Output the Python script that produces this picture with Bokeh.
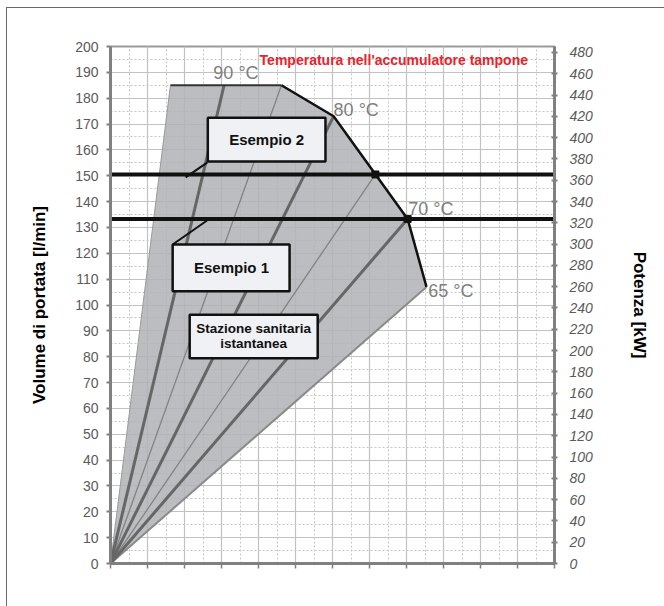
from bokeh.plotting import figure
from bokeh.models import (Range1d, LinearAxis, SingleIntervalTicker, FixedTicker)
from bokeh.core.properties import value
from bokeh.embed import file_html
from bokeh.resources import INLINE

# ---------------- data ----------------
flow_ticks = list(range(0, 201, 10))          # l/min (left axis)
power_ticks = list(range(0, 481, 20))         # kW (right axis)
x_ticks = list(range(0, 13))                  # unlabeled bottom scale

# envelope of the operating area (x: unlabeled scale, y: flow l/min)
env_x = [0, 1.62, 4.62, 6.03, 8.03, 8.54]
env_y = [0, 185, 185, 173, 133.3, 107]

# fan lines from origin
thick_x = [3.07, 6.03, 8.03]
thick_y = [185, 173, 133.3]
thin_x = [4.62, 7.16]
thin_y = [185, 150.5]

# example flows (horizontal lines) and intersection points
example_names = ["Esempio 2", "Esempio 1"]
example_flow = [150.5, 133.3]
example_cross_x = [7.16, 8.03]

# temperature labels
temp_labels = ["90 °C", "80 °C", "70 °C", "65 °C"]
temp_x = [2.78, 6.03, 8.05, 8.59]
temp_y = [189.6, 175.6, 137.3, 105.6]

FONT = "Liberation Sans"

p = figure(width=664, height=606, output_backend="svg", toolbar_location=None,
           x_range=Range1d(0, 12), y_range=Range1d(0, 200),
           min_border_left=110, min_border_right=110,
           min_border_top=46, min_border_bottom=43,
           background_fill_color="white", border_fill_color="white",
           border_fill_alpha=0)
# outer frame of the picture (left and top edges visible), drawn behind the canvas
p.styles = {
    "background": ("linear-gradient(#6a6a6a,#6a6a6a) 6px 7px / 1px 100% no-repeat, "
                   "linear-gradient(#6a6a6a,#6a6a6a) 6px 7px / 100% 1px no-repeat, white"),
}
p.outline_line_color = "#9a9a9a"
p.outline_line_width = 2

p.extra_y_ranges = {"power": Range1d(0, 485.6)}

# grids
p.xgrid.ticker = SingleIntervalTicker(interval=1, num_minor_ticks=2)
p.ygrid.ticker = SingleIntervalTicker(interval=10, num_minor_ticks=2)
for g in (p.xgrid, p.ygrid):
    g.grid_line_color = "#c2c2c2"
    g.grid_line_width = 1.2
    g.minor_grid_line_color = "#c6c6c6"
    g.minor_grid_line_dash = "2 2"
    g.minor_grid_line_width = 1

# bottom axis (ticks without labels)
xa = p.xaxis[0]
xa.ticker = FixedTicker(ticks=x_ticks)
xa.major_label_overrides = {t: "" for t in x_ticks}
xa.axis_line_color = "#808080"
xa.axis_line_width = 3
xa.major_tick_line_color = "#808080"
xa.major_tick_line_width = 1.5
xa.major_tick_out = 5
xa.major_tick_in = 0
xa.minor_tick_line_color = None
xa.major_label_standoff = 0

# left axis
ya = p.yaxis[0]
ya.ticker = FixedTicker(ticks=flow_ticks)
ya.axis_line_color = "#808080"
ya.axis_line_width = 3
ya.major_tick_line_color = "#808080"
ya.major_tick_line_width = 2
ya.major_tick_out = 4
ya.major_tick_in = 0
ya.minor_tick_line_color = None
ya.major_label_text_font = FONT
ya.major_label_text_font_size = "14px"
ya.major_label_text_color = "#5a5a5a"
ya.major_label_standoff = 8
ya.axis_label = "Volume di portata [l/min]"
ya.axis_label_text_font = FONT
ya.axis_label_text_font_size = "17px"
ya.axis_label_text_font_style = "bold"
ya.axis_label_text_color = "black"
ya.axis_label_standoff = 23

# right axis
ra = LinearAxis(y_range_name="power", ticker=FixedTicker(ticks=power_ticks))
ra.axis_line_color = "#808080"
ra.axis_line_width = 3
ra.major_tick_line_color = "#808080"
ra.major_tick_line_width = 2
ra.major_tick_out = 3
ra.major_tick_in = 3
ra.minor_tick_line_color = None
ra.major_label_text_font = FONT
ra.major_label_text_font_size = "14px"
ra.major_label_text_font_style = "italic"
ra.major_label_text_color = "#5a5a5a"
ra.major_label_standoff = 12
ra.axis_label = "Potenza [kW]"
ra.axis_label_text_font = FONT
ra.axis_label_text_font_size = "17px"
ra.axis_label_text_font_style = "bold"
ra.axis_label_text_color = "black"
ra.axis_label_standoff = 34
p.add_layout(ra, "right")

# envelope area
p.patch(env_x, env_y, fill_color="#b1b2b6", fill_alpha=0.86, line_color=None)

# left boundary and lower boundary
p.segment(x0=[0], y0=[0], x1=[env_x[1]], y1=[env_y[1]], line_color="#9a9a9a", line_width=1)
p.segment(x0=[0], y0=[0], x1=[env_x[-1]], y1=[env_y[-1]], line_color="#8a8a8a", line_width=2)

# fan lines
p.segment(x0=[0] * len(thin_x), y0=[0] * len(thin_x), x1=thin_x, y1=thin_y,
          line_color="#838383", line_width=1.3)
p.segment(x0=[0] * len(thick_x), y0=[0] * len(thick_x), x1=thick_x, y1=thick_y,
          line_color="#666666", line_width=3)

# upper envelope edges
p.line(env_x[1:3], env_y[1:3], line_color="#333333", line_width=2)
p.line(env_x[2:], env_y[2:], line_color="#111111", line_width=2.5)

# example horizontal lines
p.segment(x0=[0] * 2, y0=example_flow, x1=[12.2] * 2, y1=example_flow,
          line_color="#111111", line_width=4)
p.scatter(example_cross_x, example_flow, marker="square", size=7, color="#111111")

# temperature labels
p.text(x=temp_x, y=temp_y, text=temp_labels, text_font=value(FONT),
       text_font_size="18px", text_color="#7f7f7f", text_baseline="middle",
       text_align="left")

# title in chart
p.text(x=[4.03], y=[194.6], text=["Temperatura nell'accumulatore tampone"],
       text_font=value(FONT), text_font_size="14px", text_font_style="bold",
       text_color="#e8232b", text_baseline="middle", text_align="left")

# callout boxes (annotation positions)
box_left = [2.63, 1.68, 2.14]
box_right = [5.81, 4.84, 5.60]
box_bottom = [155.5, 105.3, 79.4]
box_top = [172.4, 123.4, 96.2]
p.quad(left=box_left, right=box_right, bottom=box_bottom, top=box_top,
       fill_color="#eff1f4", line_color="#111111", line_width=2.5)

# leader lines
p.segment(x0=[2.62, 2.61], y0=[155.2, 132.7], x1=[2.03, 1.68], y1=[149.4, 123.4],
          line_color="#111111", line_width=2)

p.text(x=[4.22, 3.27], y=[164, 114.5], text=example_names, text_font=value(FONT),
       text_font_size="15px", text_font_style="bold", text_color="#111111",
       text_align="center", text_baseline="middle")
p.text(x=[3.87, 3.87], y=[91.0, 85.2], text=["Stazione sanitaria", "istantanea"],
       text_font=value(FONT), text_font_size="13.5px", text_font_style="bold",
       text_color="#111111", text_align="center", text_baseline="middle")

open("out.html", "w").write(file_html(p, INLINE))
